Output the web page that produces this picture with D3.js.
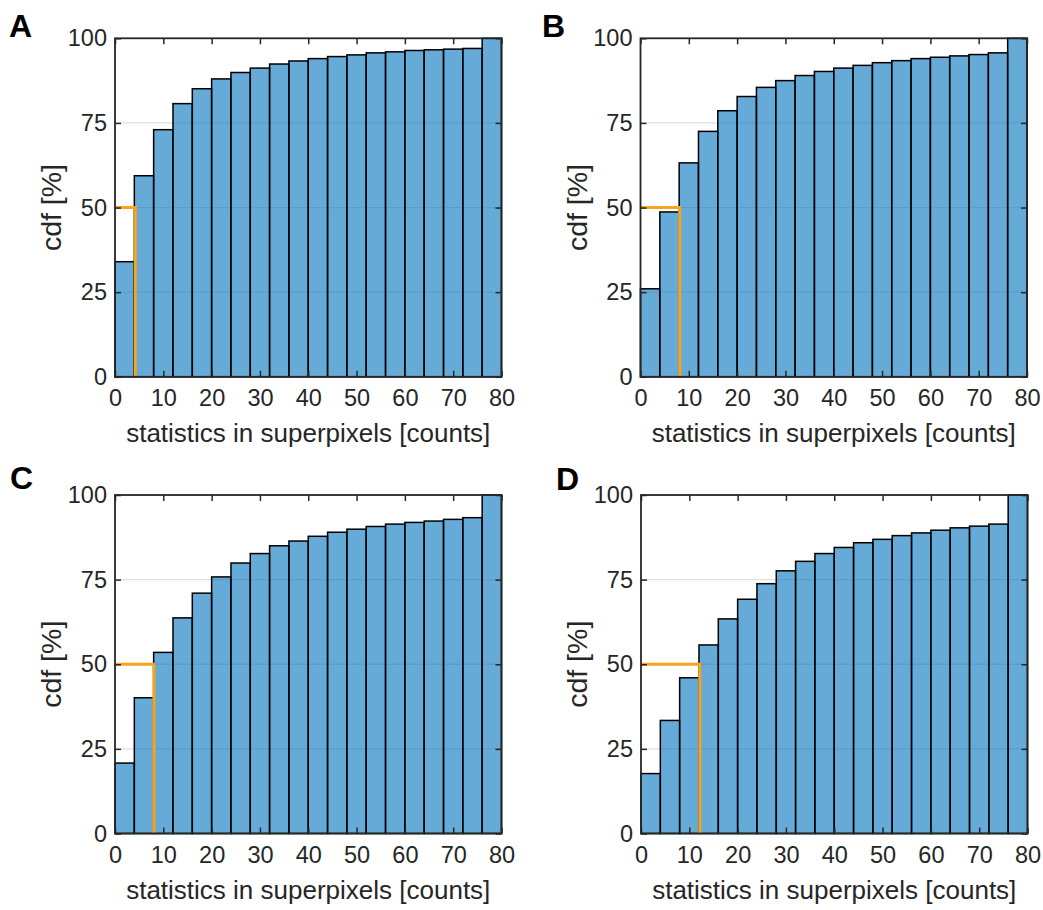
<!DOCTYPE html>
<html>
<head>
<meta charset="utf-8">
<script src="https://cdn.jsdelivr.net/npm/d3@7.9.0/dist/d3.min.js"></script>
<style>
  body { margin: 0; background: #fff; }
  text { font-family: Helvetica, "Liberation Sans", Arial, sans-serif; fill: #262626; }
</style>
</head>
<body>
<svg id="fig" width="1043" height="910"></svg>
<script>
// Histogram bin edges (counts) and cumulative percentages per panel
const binEdges = [0, 4, 8, 12, 16, 20, 24, 28, 32, 36, 40, 44, 48, 52, 56, 60, 64, 68, 72, 76, 80];
const cdfA = [34.0, 59.4, 73.0, 80.7, 85.1, 88.0, 89.9, 91.2, 92.4, 93.3, 94.0, 94.6, 95.1, 95.7, 96.0, 96.4, 96.6, 96.8, 97.0, 100];
const cdfB = [26.0, 48.7, 63.2, 72.5, 78.6, 82.8, 85.5, 87.5, 89.0, 90.2, 91.2, 92.0, 92.8, 93.4, 94.0, 94.4, 94.8, 95.2, 95.7, 100];
const cdfC = [20.8, 40.1, 53.5, 63.7, 71.0, 75.8, 79.9, 82.7, 85.0, 86.4, 87.8, 89.0, 89.9, 90.7, 91.4, 91.9, 92.3, 92.8, 93.3, 100];
const cdfD = [17.7, 33.4, 46.0, 55.7, 63.4, 69.2, 73.8, 77.6, 80.4, 82.7, 84.5, 85.9, 86.9, 88.0, 88.8, 89.6, 90.3, 90.8, 91.4, 100];
const panelLetters = ["A", "B", "C", "D"];
const medians = [4.2, 8.1, 8.05, 12.15];
const xTicks = [0, 10, 20, 30, 40, 50, 60, 70, 80];
const yTicks = [0, 25, 50, 75, 100];
const gridTicks = [25, 50, 75];

const allCdf = [cdfA, cdfB, cdfC, cdfD];

// Panel frames (plot area) and letter positions
const frames = [
  { left: 115, top: 38.3, letterX: 9, letterY: 37 },
  { left: 640.5, top: 38.3, letterX: 542, letterY: 37 },
  { left: 115, top: 495, letterX: 10, letterY: 489 },
  { left: 641, top: 495, letterX: 556, letterY: 490 }
];
const plotW = 386.5, plotH = 338.5;

const svg = d3.select("#fig");

allCdf.forEach((values, i) => {
  const f = frames[i];
  const x = d3.scaleLinear().domain([0, 80]).range([0, plotW]);
  const y = d3.scaleLinear().domain([0, 100]).range([plotH, 0]);

  const g = svg.append("g").attr("transform", `translate(${f.left},${f.top})`);

  // grid lines (behind the semi-transparent bars)
  g.selectAll(".grid")
    .data(gridTicks)
    .join("line")
    .attr("x1", 0).attr("x2", plotW)
    .attr("y1", d => y(d)).attr("y2", d => y(d))
    .attr("stroke", "#262626")
    .attr("stroke-opacity", 0.15)
    .attr("stroke-width", 1.3);

  // bars
  const bins = values.map((v, k) => ({ x0: binEdges[k], x1: binEdges[k + 1], v }));
  g.selectAll(".bar")
    .data(bins)
    .join("rect")
    .attr("x", d => x(d.x0))
    .attr("width", d => x(d.x1) - x(d.x0))
    .attr("y", d => y(d.v))
    .attr("height", d => y(0) - y(d.v))
    .attr("fill", "#0072BD")
    .attr("fill-opacity", 0.6)
    .attr("stroke", "#000")
    .attr("stroke-width", 1.5);

  // median marker
  g.append("path")
    .attr("d", `M${x(0)},${y(50)}H${x(medians[i])}V${y(0)}`)
    .attr("fill", "none")
    .attr("stroke", "#f8a51c")
    .attr("stroke-width", 3);

  // axes with inward ticks on all four sides
  const axisStyle = sel => {
    sel.select(".domain").remove();
    sel.selectAll("line").attr("stroke", "#262626").attr("stroke-width", 1.5);
    sel.selectAll("text").attr("fill", "#262626").style("font-size", "23.5px");
  };
  g.append("g").attr("transform", `translate(0,${plotH})`)
    .call(d3.axisBottom(x).tickValues(xTicks).tickSizeInner(-6).tickSizeOuter(0).tickPadding(13))
    .call(axisStyle);
  g.append("g")
    .call(d3.axisTop(x).tickValues(xTicks).tickSizeInner(-6).tickSizeOuter(0).tickFormat(""))
    .call(axisStyle);
  g.append("g")
    .call(d3.axisLeft(y).tickValues(yTicks).tickSizeInner(-6).tickSizeOuter(0).tickPadding(8))
    .call(axisStyle);
  g.append("g").attr("transform", `translate(${plotW},0)`)
    .call(d3.axisRight(y).tickValues(yTicks).tickSizeInner(-6).tickSizeOuter(0).tickFormat(""))
    .call(axisStyle);

  // box
  g.append("rect")
    .attr("width", plotW).attr("height", plotH)
    .attr("fill", "none")
    .attr("stroke", "#262626")
    .attr("stroke-width", 1.8);

  // axis labels
  g.append("text")
    .attr("x", plotW / 2).attr("y", plotH + 65)
    .attr("text-anchor", "middle")
    .style("font-size", "26px")
    .text("statistics in superpixels [counts]");
  g.append("text")
    .attr("transform", `translate(-54,${plotH / 2}) rotate(-90)`)
    .attr("text-anchor", "middle")
    .style("font-size", "28.5px")
    .text("cdf [%]");

  // panel letter
  svg.append("text")
    .attr("x", f.letterX).attr("y", f.letterY)
    .style("font-size", "32px")
    .style("font-weight", "bold")
    .style("fill", "#000")
    .text(panelLetters[i]);
});
</script>
</body>
</html>
